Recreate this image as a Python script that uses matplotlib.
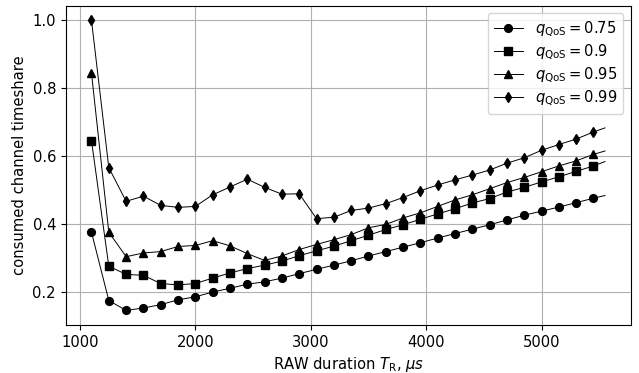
import matplotlib
matplotlib.use('Agg')
import matplotlib.pyplot as plt
import numpy as np

plt.rcParams['font.size'] = 10.6

# RAW duration (us); markers every 150 us, line runs on to 5550
t_raw = [1100, 1250, 1400, 1550, 1700, 1850, 2000, 2150, 2300, 2450,
         2600, 2750, 2900, 3050, 3200, 3350, 3500, 3650, 3800, 3950,
         4100, 4250, 4400, 4550, 4700, 4850, 5000, 5150, 5300, 5450, 5550]

share_075 = [0.377, 0.176, 0.147, 0.154, 0.164, 0.178, 0.187, 0.201, 0.212, 0.224,
             0.231, 0.242, 0.255, 0.268, 0.280, 0.293, 0.307, 0.320, 0.333, 0.346,
             0.360, 0.373, 0.386, 0.399, 0.413, 0.427, 0.439, 0.451, 0.464, 0.477, 0.485]
share_090 = [0.646, 0.277, 0.253, 0.250, 0.226, 0.222, 0.226, 0.242, 0.257, 0.270,
             0.280, 0.292, 0.308, 0.322, 0.336, 0.352, 0.368, 0.385, 0.399, 0.415,
             0.431, 0.446, 0.463, 0.476, 0.495, 0.509, 0.525, 0.540, 0.556, 0.572, 0.585]
share_095 = [0.845, 0.377, 0.305, 0.316, 0.320, 0.335, 0.338, 0.352, 0.337, 0.314,
             0.294, 0.307, 0.326, 0.341, 0.355, 0.370, 0.390, 0.400, 0.419, 0.434,
             0.453, 0.472, 0.487, 0.505, 0.523, 0.538, 0.555, 0.572, 0.587, 0.606, 0.616]
share_099 = [1.000, 0.567, 0.468, 0.483, 0.456, 0.450, 0.453, 0.487, 0.510, 0.533,
             0.509, 0.489, 0.490, 0.417, 0.421, 0.441, 0.448, 0.461, 0.479, 0.499,
             0.516, 0.531, 0.545, 0.560, 0.580, 0.596, 0.618, 0.635, 0.651, 0.672, 0.684]

series = [(share_075, 'o', '0.75'), (share_090, 's', '0.9'),
          (share_095, '^', '0.95'), (share_099, 'd', '0.99')]

fig, ax = plt.subplots(figsize=(6.39, 3.73), dpi=100)

n_marks = len(t_raw) - 1
for y, m, q in series:
    ax.plot(t_raw, y, color='black', lw=0.7, marker=m, markersize=5.6,
            markevery=list(range(n_marks)),
            label=r'$q_{\mathrm{QoS}} = %s$' % q)

ax.grid(True)
ax.legend(loc='upper right', labelspacing=0.27)
ax.set_xlabel(r'RAW duration $T_{\mathrm{R}}$, $\mu s$')
ax.set_ylabel('consumed channel timeshare')

plt.subplots_adjust(left=0.103, right=0.987, top=0.984, bottom=0.129)
plt.savefig('out.png', dpi=100)
